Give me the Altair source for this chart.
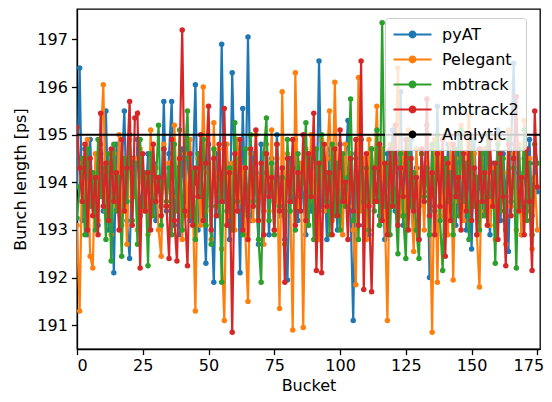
import altair as alt
import pandas as pd

buckets = list(range(176))

pyat = [193.9,196.4,193.2,194.7,192.9,194.9,193.5,194.2,193.1,194.6,
        193.4,195.5,193.0,194.4,192.1,194.8,193.6,194.3,195.5,193.2,
        192.4,194.5,193.7,194.9,193.3,194.0,193.4,194.6,193.8,194.4,
        193.2,194.1,193.5,195.7,193.4,194.6,195.7,193.1,194.3,192.9,
        194.7,193.6,194.9,193.2,194.2,196.05,193.0,194.4,193.7,192.3,
        194.8,193.5,191.9,194.6,193.3,196.9,193.6,194.4,192.8,196.3,
        193.9,194.7,192.1,195.55,193.4,197.05,193.2,194.6,193.9,192.7,
        194.8,193.4,194.2,192.9,194.5,193.6,195.0,193.3,194.1,192.8,
        191.95,194.5,193.6,194.9,193.2,194.3,193.7,192.9,194.6,193.4,
        194.0,193.1,196.55,193.5,194.4,192.8,194.7,193.6,194.2,193.0,
        194.8,193.5,194.3,195.3,193.4,191.1,194.6,193.8,194.9,193.1,
        194.1,192.9,194.7,193.6,195.0,193.3,194.4,192.8,194.6,193.7,
        195.1,193.4,194.2,195.9,193.1,194.5,193.6,194.9,193.2,194.3,
        192.8,194.6,193.8,195.2,192.0,194.7,193.5,195.6,193.3,194.2,
        192.9,194.8,193.7,194.4,193.1,195.0,193.5,194.3,193.0,194.6,
        192.6,194.9,193.6,194.1,193.3,194.7,193.8,192.9,194.4,193.5,
        195.1,193.2,194.6,193.7,192.55,194.8,196.5,193.4,194.2,192.9,
        194.5,193.6,194.9,193.3,194.4,193.8]

pelegant = [193.1,191.3,194.4,193.6,194.9,192.45,192.2,194.6,193.2,194.8,
            196.05,193.4,194.1,192.9,194.6,193.5,195.0,193.1,194.3,192.7,
            194.9,193.7,194.5,193.0,194.7,193.4,194.1,192.9,195.1,193.6,
            194.3,193.0,192.45,194.8,193.5,194.4,193.2,195.2,193.7,194.0,
            192.8,194.6,193.3,194.9,193.6,191.3,194.5,193.1,196.0,193.4,
            194.2,192.8,195.25,193.5,194.7,192.6,191.1,194.8,193.3,194.4,
            193.0,194.9,193.6,194.3,192.9,191.5,194.6,193.2,195.0,193.7,
            194.1,192.7,194.8,193.4,195.1,193.0,194.5,191.35,195.9,193.3,
            194.6,193.8,190.9,196.3,193.5,194.4,190.95,194.7,193.1,195.0,
            193.6,194.3,192.8,194.9,193.4,194.5,195.5,193.2,196.1,193.7,
            194.2,192.9,194.8,193.5,194.6,193.0,191.85,196.2,193.4,194.5,
            192.8,194.9,193.6,194.2,195.6,193.1,194.7,193.4,191.1,194.8,
            193.7,194.4,196.4,193.3,194.6,193.0,195.1,193.6,192.55,194.7,
            193.5,194.3,193.0,195.0,193.7,190.85,194.9,191.9,194.6,193.3,
            194.1,192.9,194.8,191.95,194.5,193.6,195.2,193.2,194.4,195.4,
            193.5,194.6,192.9,191.8,194.7,193.4,195.0,193.1,194.3,192.8,
            194.9,193.6,194.2,192.7,195.1,193.5,194.6,193.0,194.8,192.9,
            195.3,193.4,194.5,192.6,194.1,193.0]

mbtrack = [193.25,193.9,194.5,192.9,194.7,193.5,194.2,193.0,194.9,193.7,
           194.3,192.8,194.6,192.35,194.8,193.4,194.1,192.45,194.5,193.6,
           195.0,193.2,194.4,192.7,194.9,193.5,194.2,192.25,194.6,193.3,
           194.0,195.2,193.1,194.7,193.6,194.3,192.9,194.8,193.4,195.1,
           193.0,194.5,195.5,193.3,194.2,192.8,194.6,193.7,194.9,193.1,
           194.4,192.7,194.7,193.5,194.1,191.9,194.8,193.4,194.3,193.0,
           195.25,193.6,194.5,192.9,194.7,193.3,195.0,193.6,194.2,192.8,
           191.9,194.6,195.35,193.2,194.4,192.9,194.8,193.5,194.1,192.7,
           194.9,193.4,194.3,193.0,194.6,193.7,194.0,195.25,193.1,194.5,
           192.8,194.7,193.4,195.0,193.6,194.2,192.9,194.8,193.3,194.4,
           193.0,194.6,193.5,194.1,195.75,193.2,194.5,192.8,194.9,193.6,
           194.3,193.0,194.7,193.4,195.1,193.1,197.35,193.5,194.4,192.9,
           194.8,193.6,192.5,194.6,193.3,192.4,194.9,193.5,194.2,193.0,
           192.4,194.6,193.7,194.3,192.9,194.8,193.4,195.0,193.2,192.15,
           194.5,193.6,194.2,192.9,194.7,193.3,195.1,193.6,194.4,192.8,
           194.9,193.5,194.1,193.0,194.6,193.3,195.0,193.7,194.2,192.3,
           194.8,193.4,194.5,193.0,194.9,193.6,194.3,192.2,194.7,193.5,
           195.1,193.2,194.4,192.9,194.8,194.4]

mbtrack2 = [195.15,194.3,193.6,194.8,193.0,194.5,193.3,194.1,192.9,195.45,
            193.5,194.4,193.2,194.7,193.6,194.2,193.0,194.9,193.4,194.3,
            195.7,193.1,195.35,195.45,192.2,194.6,193.4,194.2,193.0,194.8,
            193.6,194.1,193.3,194.7,193.5,192.4,194.9,193.2,192.35,194.5,
            197.2,193.4,192.25,194.6,193.1,194.3,193.7,195.0,193.2,194.4,
            195.6,193.0,194.5,193.3,194.8,193.6,195.55,193.1,194.2,190.85,
            194.6,193.4,194.9,193.0,194.3,192.8,194.7,193.5,195.1,193.2,
            194.4,192.9,194.6,193.7,194.1,193.0,194.8,193.4,194.3,191.9,
            194.5,193.6,194.9,193.1,194.2,193.4,195.0,193.2,194.6,193.7,
            195.45,192.15,194.4,192.1,194.8,193.5,194.2,192.9,194.7,193.3,
            195.1,193.6,194.0,192.8,194.5,193.4,194.9,193.1,196.55,191.75,
            194.6,193.5,191.7,194.3,193.6,194.8,193.2,194.4,192.9,194.7,
            193.5,195.2,193.1,194.3,193.7,194.9,193.0,194.5,193.4,194.1,
            192.8,194.7,193.6,195.75,193.3,194.2,192.9,194.6,193.5,194.9,
            192.45,194.4,193.2,194.8,193.7,194.1,193.0,194.6,193.4,195.0,
            193.2,194.3,192.9,194.7,193.6,194.2,193.1,194.9,193.5,194.4,
            192.8,194.6,193.7,192.25,194.8,193.3,194.5,195.8,193.4,194.1,
            192.9,194.7,193.6,192.15,195.5,193.9]

names = ["pyAT", "Pelegant", "mbtrack", "mbtrack2"]
series_values = [pyat, pelegant, mbtrack, mbtrack2]
analytic_value = [195.0]
legend_names = names + ["Analytic"]
colors = ["#1f77b4", "#ff7f0e", "#2ca02c", "#d62728", "#000000"]
x_ticks = [0, 25, 50, 75, 100, 125, 150, 175]
y_ticks = [191, 192, 193, 194, 195, 196, 197]

rows = []
for n, vals in zip(names, series_values):
    for b, v in zip(buckets, vals):
        rows.append({"bucket": b, "value": v, "series": n})
df = pd.DataFrame(rows)
df_an = pd.DataFrame({"value": analytic_value, "series": ["Analytic"]})

FONT = "DejaVu Sans"
sym_path = ("M-2.375,0L2.375,0M-0.36,0A0.36,0.36,0,1,0,0.36,0"
            "A0.36,0.36,0,1,0,-0.36,0Z")

color = alt.Color(
    "series:N",
    scale=alt.Scale(domain=legend_names, range=colors),
    legend=alt.Legend(
        title=None, orient="none", legendX=308, legendY=9,
        symbolType=sym_path, symbolSize=256, symbolStrokeWidth=2.2,
        labelFontSize=16, labelFont=FONT, labelOffset=20,
        rowPadding=7, padding=7,
        fillColor="rgba(255,255,255,0.8)", strokeColor="#cccccc",
        cornerRadius=3, symbolOffset=11,
    ),
)
xenc = alt.X("bucket:Q",
             scale=alt.Scale(domain=[0, 176], nice=False, zero=False),
             axis=alt.Axis(values=x_ticks, title="Bucket", labelPadding=3,
                           labelOffset={"condition": {"test": "datum.value == 175", "value": -9}, "value": 0},
                           titleBaseline="alphabetic", titleY=41))
yenc = alt.Y("value:Q",
             scale=alt.Scale(domain=[190.5, 197.64], nice=False, zero=False),
             axis=alt.Axis(values=y_ticks, title="Bunch length [ps]"))

layers = []
for n in names:
    base = alt.Chart(df).transform_filter(alt.datum.series == n)
    layers.append(base.mark_line(strokeWidth=2.2, clip=True).encode(x=xenc, y=yenc, color=color))
    layers.append(base.mark_circle(size=30, opacity=1, clip=True).encode(x=xenc, y=yenc, color=color))

rule = alt.Chart(df_an).mark_rule(strokeWidth=2).encode(y=yenc, color=color)

chart = alt.layer(*layers, rule).properties(
    width=463, height=340,
    padding={"left": 69, "top": 1, "right": 4, "bottom": 45},
    autosize=alt.AutoSizeParams(type="none"),
).configure_view(
    stroke="black", strokeWidth=1.3
).configure_axis(
    grid=False, domainColor="black", domainWidth=1.3,
    tickColor="black", tickWidth=1.3, tickSize=5.6,
    labelFont=FONT, labelFontSize=16, labelColor="black", labelPadding=4,
    titleFont=FONT, titleFontSize=16, titleColor="black", titleFontWeight="normal",
).configure_axisY(titlePadding=8)

chart.save("out.html", embed_options={"renderer": "svg", "actions": False})
